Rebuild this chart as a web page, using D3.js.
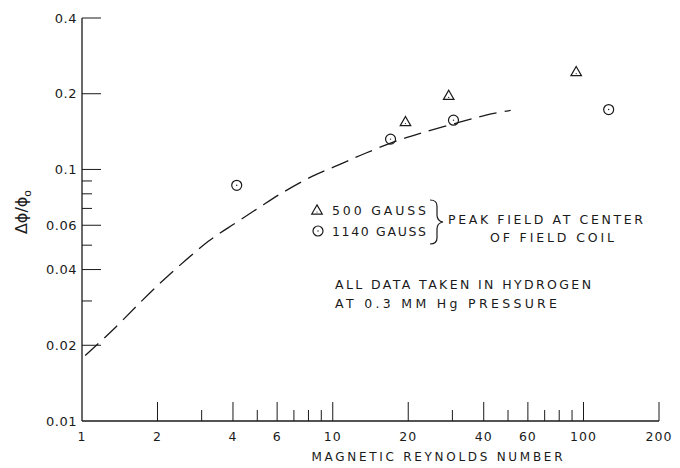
<!DOCTYPE html>
<html>
<head>
<meta charset="utf-8">
<script src="https://cdn.jsdelivr.net/npm/d3@7"></script>
<style>
  body { margin: 0; background: #fff; }
  svg text { font-family: "DejaVu Sans", sans-serif; fill: #1a1a1a; }
</style>
</head>
<body>
<svg id="chart" width="680" height="468"></svg>
<script>
// données
const gauss500X = [19.5, 29.0, 93.5];
const gauss500Y = [0.155, 0.197, 0.245];
const gauss1140X = [4.14, 17.0, 30.3, 126];
const gauss1140Y = [0.0865, 0.132, 0.157, 0.173];

// courbe en tirets
const curveX = [1.03, 1.32, 2.03, 3.2, 4.1, 5.07, 6.28, 8.27, 10.56, 13.5, 18.4, 23.2, 31.8, 41.2, 51.2];
const curveY = [0.0182, 0.0229, 0.035, 0.0519, 0.0613, 0.0704, 0.0807, 0.0938, 0.1043, 0.116, 0.131, 0.1407, 0.1537, 0.1648, 0.1716];

// graduations
const xMajor = [2, 4, 6, 10, 20, 40, 60, 100, 200];
const xMinor = [3, 5, 7, 8, 9, 30, 50, 70, 80, 90];
const xLabels = [1, 2, 4, 6, 10, 20, 40, 60, 100, 200];
const yMajor = [0.4, 0.2, 0.1, 0.06, 0.04, 0.02];
const yMinor = [0.09, 0.08, 0.07, 0.05, 0.03];
const yLabels = ["0.4", "0.2", "0.1", "0.06", "0.04", "0.02", "0.01"];
const yLabelValues = [0.4, 0.2, 0.1, 0.06, 0.04, 0.02, 0.01];

const ink = "#1a1a1a";
const svg = d3.select("#chart");

const x = d3.scaleLog().domain([1, 200]).range([82, 659]);
const y = d3.scaleLog().domain([0.01, 0.4]).range([421, 18]);

// axes
svg.append("line").attr("x1", x(1)).attr("x2", x(200)).attr("y1", y(0.01)).attr("y2", y(0.01))
  .attr("stroke", ink).attr("stroke-width", 1.3);
svg.append("line").attr("x1", x(1)).attr("x2", x(1)).attr("y1", y(0.01)).attr("y2", y(0.4))
  .attr("stroke", ink).attr("stroke-width", 1.3);

// graduations x (vers le haut)
svg.selectAll(".xmaj").data(xMajor).enter().append("line")
  .attr("x1", d => x(d)).attr("x2", d => x(d))
  .attr("y1", y(0.01)).attr("y2", y(0.01) - 19)
  .attr("stroke", ink).attr("stroke-width", 1);
svg.selectAll(".xmin").data(xMinor).enter().append("line")
  .attr("x1", d => x(d)).attr("x2", d => x(d))
  .attr("y1", y(0.01)).attr("y2", y(0.01) - 11)
  .attr("stroke", ink).attr("stroke-width", 1);

// graduations y (vers la droite)
svg.selectAll(".ymaj").data(yMajor).enter().append("line")
  .attr("x1", x(1)).attr("x2", x(1) + 19)
  .attr("y1", d => y(d)).attr("y2", d => y(d))
  .attr("stroke", ink).attr("stroke-width", 1);
svg.selectAll(".ymin").data(yMinor).enter().append("line")
  .attr("x1", x(1)).attr("x2", x(1) + 10)
  .attr("y1", d => y(d)).attr("y2", d => y(d))
  .attr("stroke", ink).attr("stroke-width", 1);

// étiquettes
svg.selectAll(".xlab").data(xLabels).enter().append("text")
  .attr("x", d => x(d)).attr("y", 441)
  .attr("text-anchor", "middle").attr("font-size", 12.5).attr("letter-spacing", 1)
  .text(d => d);
svg.selectAll(".ylab").data(yLabels).enter().append("text")
  .attr("x", 77).attr("y", (d, i) => y(yLabelValues[i]) + 4.5)
  .attr("text-anchor", "end").attr("font-size", 13).attr("letter-spacing", 0.5)
  .text(d => d);

svg.append("text").attr("x", 437).attr("y", 461).attr("text-anchor", "middle")
  .attr("font-size", 12).attr("textLength", 251).attr("lengthAdjust", "spacing")
  .text("MAGNETIC REYNOLDS NUMBER");

const yTitle = svg.append("text").attr("transform", "translate(27,212) rotate(-90)")
  .attr("text-anchor", "middle").attr("font-size", 16);
yTitle.append("tspan").text("Δϕ/ϕ");
yTitle.append("tspan").attr("font-size", 11).attr("dy", 4).text("o");

// courbe en tirets
const line = d3.line().x(d => x(d[0])).y(d => y(d[1])).curve(d3.curveCatmullRom);
svg.append("path").datum(d3.zip(curveX, curveY)).attr("d", line)
  .attr("fill", "none").attr("stroke", ink).attr("stroke-width", 1.3)
  .attr("stroke-dasharray", "18,8");

// symboles
const tri = d3.symbol().type(d3.symbolTriangle).size(48);
function drawTriangle(px, py) {
  svg.append("path").attr("d", tri()).attr("transform", `translate(${px},${py + 1})`)
    .attr("fill", "none").attr("stroke", ink).attr("stroke-width", 1.2);
  svg.append("circle").attr("cx", px).attr("cy", py + 2).attr("r", 0.6).attr("fill", ink);
}
function drawCircle(px, py) {
  svg.append("circle").attr("cx", px).attr("cy", py).attr("r", 5)
    .attr("fill", "none").attr("stroke", ink).attr("stroke-width", 1.2);
  svg.append("circle").attr("cx", px).attr("cy", py).attr("r", 0.7).attr("fill", ink);
}
gauss500X.forEach((v, i) => drawTriangle(x(v), y(gauss500Y[i])));
gauss1140X.forEach((v, i) => drawCircle(x(v), y(gauss1140Y[i])));

// légende
drawTriangle(317, 210);
drawCircle(318, 231);
function note(tx, ty, str, w) {
  svg.append("text").attr("x", tx).attr("y", ty).attr("font-size", 12.5)
    .attr("textLength", w).attr("lengthAdjust", "spacing").text(str);
}
note(332, 215, "500 GAUSS", 94);
note(332, 236, "1140 GAUSS", 94);
note(448, 224, "PEAK FIELD AT CENTER", 195);
note(490, 242, "OF FIELD COIL", 124);
note(335, 289, "ALL DATA TAKEN IN HYDROGEN", 256);
note(335, 308, "AT 0.3 MM Hg PRESSURE", 222);

// accolade
svg.append("path")
  .attr("d", "M430,200 Q437,200 437,206 L437,215 Q437,221 443,222 Q437,223 437,229 L437,238 Q437,244 430,244")
  .attr("fill", "none").attr("stroke", ink).attr("stroke-width", 1.2);
</script>
</body>
</html>
